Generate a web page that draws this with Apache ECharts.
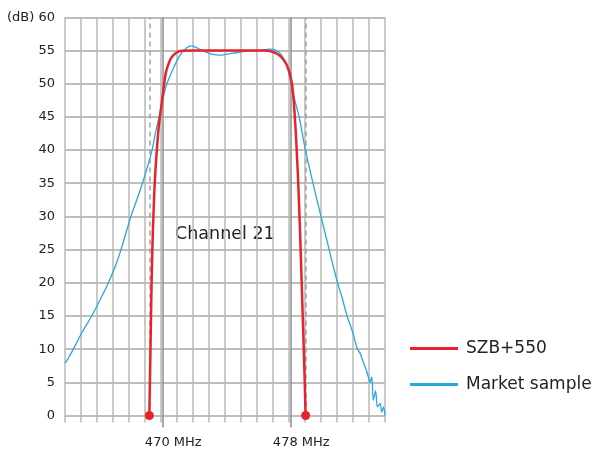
<!DOCTYPE html>
<html>
<head>
<meta charset="utf-8">
<script src="https://cdn.jsdelivr.net/npm/echarts@6/dist/echarts.min.js"></script>
<style>html,body{margin:0;padding:0;background:#fff}#c{width:604px;height:452px}</style>
</head>
<body>
<div id="c"></div>
<script>
// Frequency axis (MHz) and level axis (dB)
var freqMin = 463.86, freqMax = 483.86, freqStep = 1;
var dbMin = 0, dbMax = 60, dbStep = 5;
var channelEdges = [470, 478];
var channelLabel = 'Channel 21';
var seriesNames = ['SZB+550', 'Market sample'];

// SZB+550 response [MHz, dB]
var szbFreq = [469.13, 469.19, 469.25, 469.32, 469.40, 469.49, 469.60, 469.72, 469.85, 469.97, 470.06, 470.17, 470.32, 470.53, 470.84, 471.17, 471.86, 474.0, 476.36, 476.67, 477.19, 477.55, 477.76, 477.93, 478.07, 478.21, 478.34, 478.47, 478.60, 478.73, 478.82, 478.90];
var szbDb   = [0, 8, 17, 25, 31, 36, 40, 43.5, 46, 48.3, 50, 51.7, 52.9, 54, 54.7, 54.95, 55, 55, 55, 54.9, 54.4, 53.5, 52.6, 51.3, 49.5, 45.5, 40, 33, 24, 14, 7, 0];

// Market sample response [MHz, dB]
var mktFreq = [463.86, 463.94, 464.06, 464.38, 464.92, 465.53, 466.05, 466.57, 466.99, 467.36, 467.67, 467.98, 468.35, 468.70, 469.02, 469.30, 469.51, 469.74, 469.96, 470.23, 470.63, 471.05, 471.47, 471.78, 472.19, 472.72, 473.11, 473.55, 474.38, 475.22, 476.05, 476.67, 476.99, 477.30, 477.52, 477.72, 477.92, 478.17, 478.49, 478.89, 479.36, 479.86, 480.37, 480.89, 481.15, 481.49, 481.82, 482.14, 482.30, 482.52, 482.67, 482.82, 482.92, 483.03, 483.13, 483.27, 483.39, 483.55, 483.66, 483.77, 483.86];
var mktDb   = [7.9, 8.1, 8.6, 10, 12.5, 15, 17.4, 20, 22.4, 25, 27.5, 30, 32.5, 35, 37.5, 40, 42.5, 45, 47.5, 50, 52.3, 54.3, 55.4, 55.7, 55.3, 54.7, 54.4, 54.3, 54.6, 54.9, 55, 55.2, 55.1, 54.6, 53.8, 52.8, 50.8, 48, 45, 40, 35, 30, 25, 20, 18.0, 15, 12.7, 10, 9.4, 7.9, 7.0, 5.8, 5.0, 5.8, 2.3, 3.7, 1.3, 1.8, 0.5, 1.3, 0];

var RED = '#e8222b', BLUE = '#27a8e0', GRID = '#b8b8b8', MARK = '#8e8e8e';
var FONT = 'DejaVu Sans';

var szbData = szbFreq.map(function (f, i) {
  var p = { value: [f, szbDb[i]] };
  if (i === 0 || i === szbFreq.length - 1) { p.symbol = 'circle'; p.symbolSize = 9; }
  return p;
});
var mktData = mktFreq.map(function (f, i) { return [f, mktDb[i]]; });
var cutoffs = [szbFreq[0], szbFreq[szbFreq.length - 1]];

var chart = echarts.init(document.getElementById('c'), null, { renderer: 'canvas' });
chart.setOption({
  animation: false,
  grid: { left: 65, right: 219, top: 17.3, bottom: 36.5, containLabel: false },
  xAxis: [{
    type: 'value', min: freqMin, max: freqMax, interval: freqStep,
    axisLine: { show: false },
    axisTick: { show: true, length: 7, lineStyle: { color: GRID, width: 1.5 } },
    axisLabel: { show: false },
    splitLine: { show: true, lineStyle: { color: GRID, width: 1.5 } }
  }, {
    type: 'value', min: freqMin, max: freqMax, position: 'bottom',
    axisLine: { show: false },
    axisTick: { show: true, customValues: channelEdges, length: 12, lineStyle: { color: MARK, width: 1.5 } },
    axisLabel: {
      show: true, customValues: channelEdges, margin: 21,
      formatter: function (v) { return Math.round(v) + ' MHz'; },
      fontFamily: FONT, fontSize: 13, color: '#222', padding: [0, 0, 0, 20]
    },
    splitLine: { show: false }
  }],
  yAxis: {
    type: 'value', min: dbMin, max: dbMax, interval: dbStep,
    axisLine: { show: false }, axisTick: { show: false },
    axisLabel: {
      margin: 10, fontFamily: FONT, fontSize: 13, color: '#222',
      formatter: function (v) { return v === dbMax ? '(dB) ' + v : String(v); }
    },
    splitLine: { show: true, lineStyle: { color: '#a8a8a8', width: 1.5 } }
  },
  legend: {
    orient: 'vertical', left: 410, top: 340, padding: 0, itemWidth: 48, itemHeight: 3, itemGap: 19,
    icon: 'rect', data: seriesNames,
    textStyle: { fontFamily: FONT, fontSize: 17, color: '#222', padding: [0, 0, 0, 3] }
  },
  graphic: [{
    type: 'text', left: 175, top: 225,
    style: { text: channelLabel, fontFamily: FONT, fontSize: 17.5, fill: '#222' }
  }],
  series: [{
    name: seriesNames[1], type: 'line', data: mktData, symbol: 'none',
    smooth: 0.3, z: 3,
    lineStyle: { color: BLUE, width: 1.3 }, itemStyle: { color: BLUE }
  }, {
    name: seriesNames[0], type: 'line', data: szbData, symbol: 'none', showSymbol: true,
    smooth: 0.5, z: 4,
    lineStyle: { color: RED, width: 2.5 }, itemStyle: { color: RED },
    markLine: {
      silent: true, symbol: 'none', label: { show: false }, z: 1,
      data: [
        { xAxis: cutoffs[0], lineStyle: { color: '#a0a0a0', type: [5, 4], width: 1.5 } },
        { xAxis: cutoffs[1], lineStyle: { color: '#a0a0a0', type: [5, 4], width: 1.5 } },
        { xAxis: channelEdges[0], lineStyle: { color: MARK, type: 'solid', width: 1.5 } },
        { xAxis: channelEdges[1], lineStyle: { color: MARK, type: 'solid', width: 1.5 } }
      ]
    }
  }]
});
</script>
</body>
</html>
